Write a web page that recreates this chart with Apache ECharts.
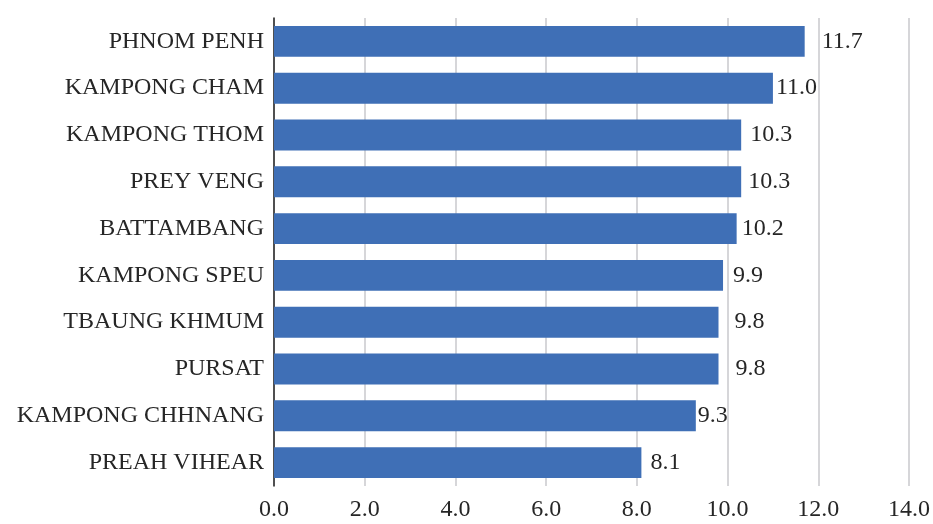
<!DOCTYPE html>
<html>
<head>
<meta charset="utf-8">
<script src="https://cdn.jsdelivr.net/npm/echarts@6/dist/echarts.min.js"></script>
<style>
  html, body { margin: 0; padding: 0; background: #ffffff; }
  #chart { width: 933px; height: 524px; }
</style>
</head>
<body>
<div id="chart"></div>
<script>
// Provinces, top to bottom
const provinces = [
  'PHNOM PENH', 'KAMPONG CHAM', 'KAMPONG THOM', 'PREY VENG', 'BATTAMBANG',
  'KAMPONG SPEU', 'TBAUNG KHMUM', 'PURSAT', 'KAMPONG CHHNANG', 'PREAH VIHEAR'
];
const values = [11.7, 11.0, 10.3, 10.3, 10.2, 9.9, 9.8, 9.8, 9.3, 8.1];

// Horizontal gap between each bar end and its value label
const labelGaps = [17, 3, 9, 7, 5, 10, 16, 17, 2, 9];

const FONT = '"Liberation Serif", "DejaVu Serif", serif';
const TEXT = '#262626';

const barData = values.map((v, i) => ({
  value: v,
  label: { distance: labelGaps[i] }
}));

const chart = echarts.init(document.getElementById('chart'));
chart.setOption({
  animation: false,
  backgroundColor: '#ffffff',
  grid: { left: 274, right: 23, top: 18, bottom: 38, containLabel: false },
  xAxis: {
    type: 'value',
    min: 0,
    max: 14,
    interval: 2,
    axisLine: { show: false },
    axisTick: { show: false },
    splitLine: { show: true, lineStyle: { color: '#c9c9cc', width: 1.5 } },
    axisLabel: {
      color: TEXT,
      fontFamily: FONT,
      fontSize: 24,
      margin: 12,
      formatter: v => v.toFixed(1)
    }
  },
  yAxis: {
    type: 'category',
    data: provinces,
    inverse: true,
    axisLine: { show: true, lineStyle: { color: '#222222', width: 1.5 } },
    axisTick: { show: false },
    splitLine: { show: false },
    axisLabel: {
      color: TEXT,
      fontFamily: FONT,
      fontSize: 24,
      margin: 10
    }
  },
  series: [{
    type: 'bar',
    data: barData,
    barCategoryGap: '34%',
    itemStyle: { color: '#3f6fb6' },
    label: {
      show: true,
      position: 'right',
      color: TEXT,
      fontFamily: FONT,
      fontSize: 24,
      formatter: p => p.value.toFixed(1)
    }
  }]
});
</script>
</body>
</html>
